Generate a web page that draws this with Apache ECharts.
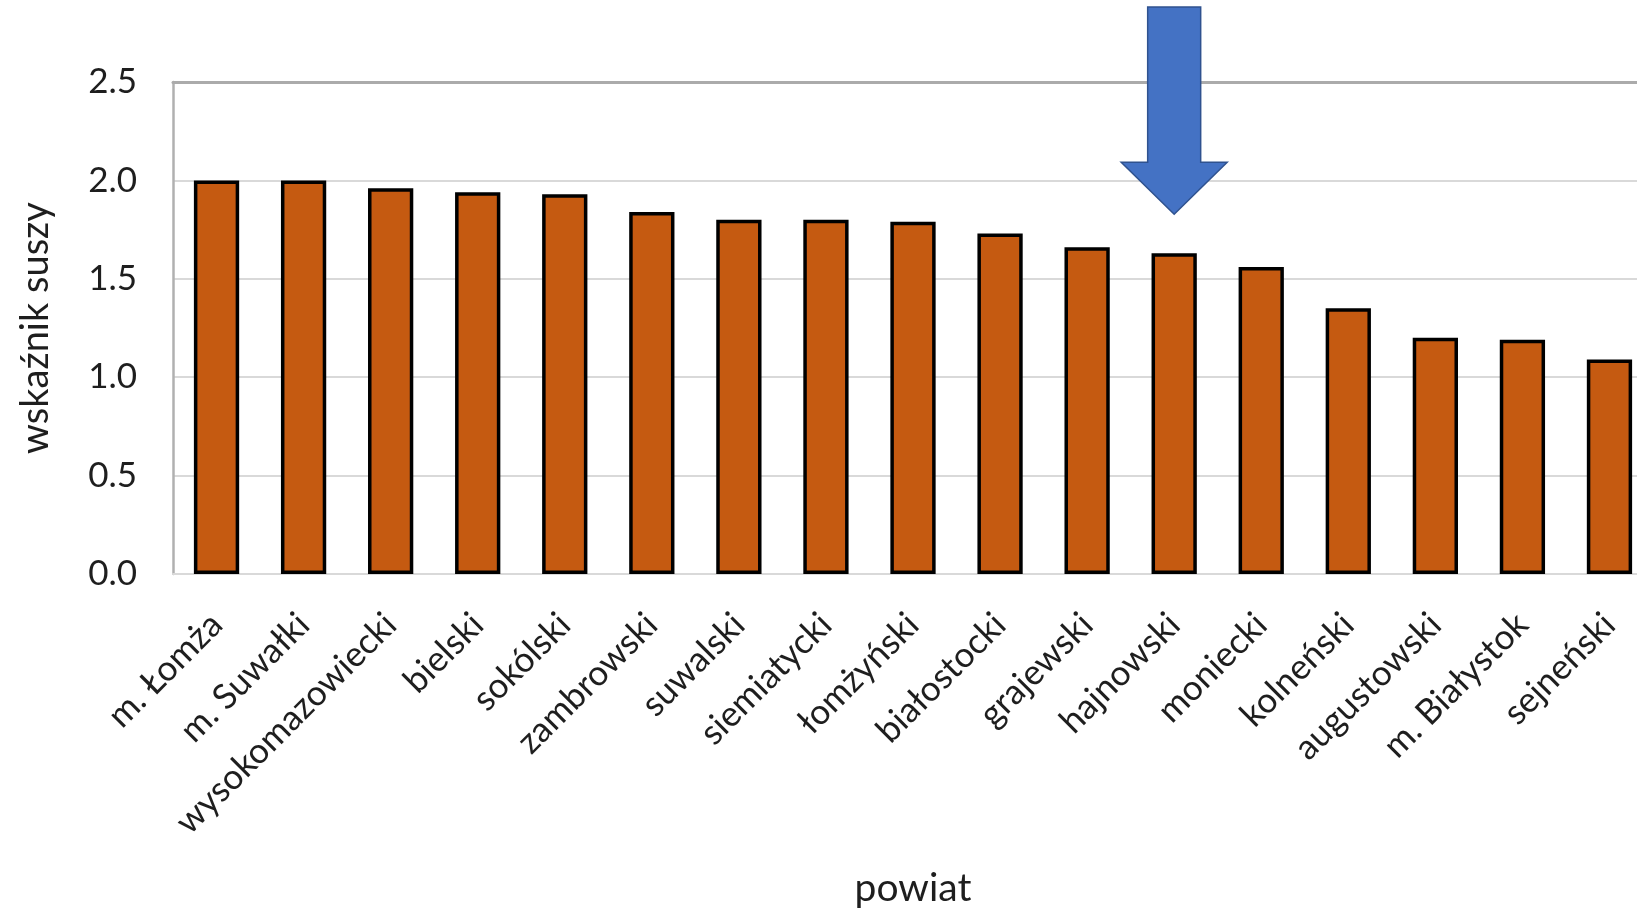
<!DOCTYPE html>
<html>
<head>
<meta charset="utf-8">
<script src="https://cdn.jsdelivr.net/npm/echarts@6/dist/echarts.min.js"></script>
<style>
  html, body { margin: 0; padding: 0; background: #ffffff; overflow: hidden; }
  #chart { width: 1637px; height: 911px; }
</style>
</head>
<body>
<div id="chart"></div>
<script>
// Drought index per county (powiat), sorted descending
const categories = [
  'm. Łomża', 'm. Suwałki', 'wysokomazowiecki', 'bielski', 'sokólski',
  'zambrowski', 'suwalski', 'siemiatycki', 'łomżyński', 'białostocki',
  'grajewski', 'hajnowski', 'moniecki', 'kolneński', 'augustowski',
  'm. Białystok', 'sejneński'
];
const droughtIndex = [
  2.00, 2.00, 1.96, 1.94, 1.93,
  1.84, 1.80, 1.80, 1.79, 1.73,
  1.66, 1.63, 1.56, 1.35, 1.20,
  1.19, 1.09
];
const yTicks = { min: 0, max: 2.5, step: 0.5 };
const highlighted = 'hajnowski';

const FONT = 'Lato';
const TEXT = '#1e1e1e';

const chart = echarts.init(document.getElementById('chart'), null, { renderer: 'canvas' });

chart.setOption({
  animation: false,
  backgroundColor: '#ffffff',
  // plot area runs slightly past the right edge of the canvas
  grid: {
    left: 173, width: 1480, top: 82, height: 492,
    containLabel: false,
    outerBoundsMode: 'none'
  },
  xAxis: [
    {
      type: 'category',
      data: categories,
      name: 'powiat',
      nameLocation: 'middle',
      nameGap: 295,
      nameTextStyle: { fontFamily: FONT, fontSize: 39, color: TEXT },
      axisLine: { show: true, lineStyle: { color: '#d9d9d9', width: 2 } },
      axisTick: { show: false },
      axisLabel: {
        interval: 0,
        rotate: 45,
        margin: 45,
        fontFamily: FONT,
        fontSize: 35,
        color: TEXT
      }
    },
    {
      // plot area top border
      type: 'category',
      data: categories,
      position: 'top',
      axisLine: { show: true, lineStyle: { color: '#ababab', width: 3 } },
      axisTick: { show: false },
      axisLabel: { show: false },
      splitLine: { show: false }
    }
  ],
  yAxis: {
    type: 'value',
    min: yTicks.min,
    max: yTicks.max,
    interval: yTicks.step,
    name: 'wskaźnik suszy',
    nameLocation: 'middle',
    nameGap: 118,
    nameTextStyle: { fontFamily: FONT, fontSize: 38, color: TEXT },
    axisLine: { show: true, lineStyle: { color: '#b0b0b0', width: 2.5 } },
    axisTick: { show: false },
    axisLabel: {
      margin: 36,
      fontFamily: FONT,
      fontSize: 35,
      color: TEXT,
      formatter: v => v.toFixed(1)
    },
    splitLine: { show: true, lineStyle: { color: '#d9d9d9', width: 2 } }
  },
  series: [{
    type: 'bar',
    data: droughtIndex,
    barCategoryGap: '48%',
    itemStyle: { color: '#c55a11', borderColor: '#000000', borderWidth: 3.5 },
    z: 3
  }]
});

// Down arrow above the highlighted county's bar
function drawArrow() {
  const idx = categories.indexOf(highlighted);
  const [cx, barTop] = chart.convertToPixel({ xAxisIndex: 0, yAxisIndex: 0 }, [idx, droughtIndex[idx]]);
  const tipY = barTop - 39;
  const headY = tipY - 52;
  const topY = 7;
  const shaftHalf = 26.5;
  const headHalf = 53;
  chart.setOption({
    graphic: [{
      type: 'polygon',
      z: 100,
      shape: {
        points: [
          [cx - shaftHalf, topY], [cx + shaftHalf, topY],
          [cx + shaftHalf, headY], [cx + headHalf, headY],
          [cx, tipY],
          [cx - headHalf, headY], [cx - shaftHalf, headY]
        ]
      },
      style: { fill: '#4472c4', stroke: '#2f528f', lineWidth: 1.5 }
    }]
  });
}
drawArrow();
</script>
</body>
</html>
